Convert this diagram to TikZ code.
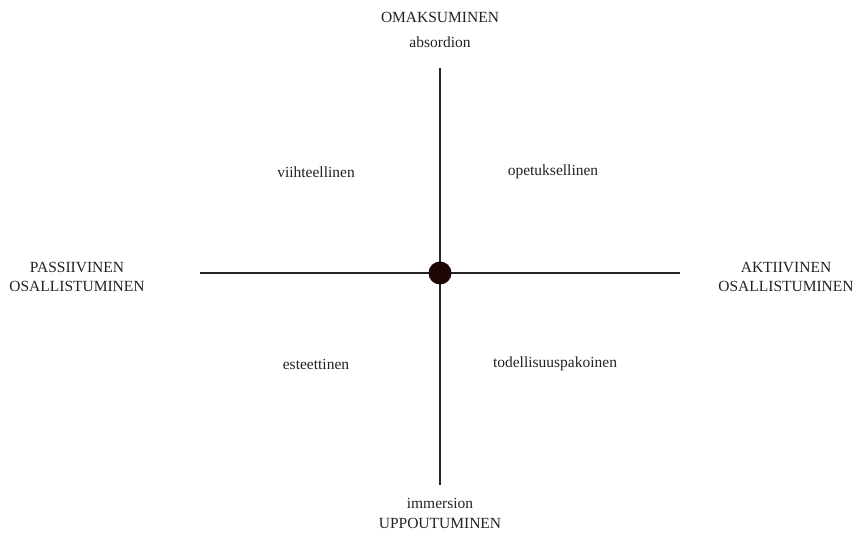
\documentclass[tikz,border=0pt]{standalone}
\usepackage{fontspec}
\setmainfont{Liberation Serif}
\definecolor{dotcol}{HTML}{1C0606}
\definecolor{txt}{HTML}{222222}
\begin{document}
\begin{tikzpicture}[x=1pt,y=-1pt,
  lbl/.style={font=\fontsize{15.5}{19}\selectfont, text=txt, inner sep=0pt, align=center},
  axis/.style={line width=1.1pt, draw=black!85}]
\useasboundingbox (0,0) rectangle (854,533);
\coordinate (top) at (440,68);
\coordinate (bot) at (440,485);
\coordinate (lft) at (200,273);
\coordinate (rgt) at (680,273);
\draw[axis] (top) -- (bot);
\draw[axis] (lft) -- (rgt);
\node[circle, fill=dotcol, minimum size=23pt, inner sep=0pt] (c) at (440,273) {};
\node[lbl] (t1) at (440,17) {OMAKSUMINEN};
\node[lbl] (t2) at (440,42) {absordion};
\node[lbl] (b1) at (440,503) {immersion};
\node[lbl] (b2) at (440,523) {UPPOUTUMINEN};
\node[lbl] (l) at (77,277) {PASSIIVINEN\\OSALLISTUMINEN};
\node[lbl] (r) at (786,277) {AKTIIVINEN\\OSALLISTUMINEN};
\node[lbl] (q1) at (316,172) {viihteellinen};
\node[lbl] (q2) at (553,172) {opetuksellinen};
\node[lbl] (q3) at (316,364) {esteettinen};
\node[lbl] (q4) at (555,364) {todellisuuspakoinen};
\end{tikzpicture}
\end{document}
